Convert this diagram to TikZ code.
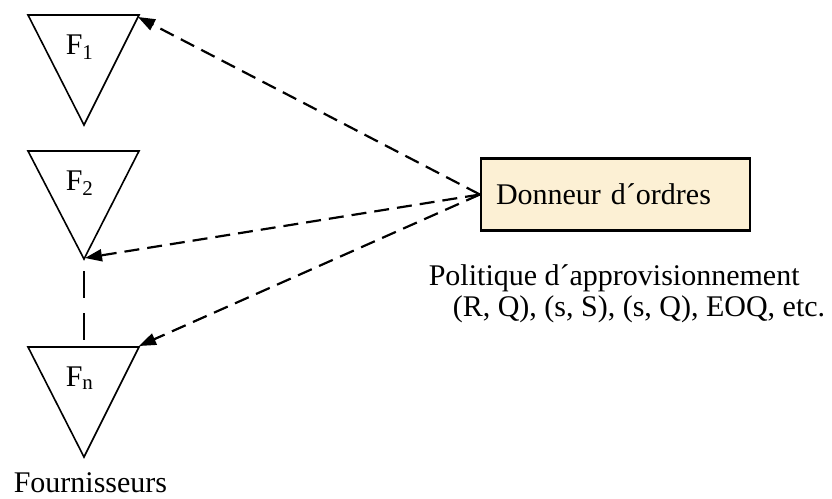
\documentclass[tikz,border=0pt]{standalone}
\usepackage{fontspec}
\setmainfont{Liberation Serif}
\usetikzlibrary{arrows.meta}
\definecolor{boxfill}{RGB}{252,240,212}

\tikzset{every picture/.style={line width=1.6pt}}
\tikzset{
  txt/.style={font=\fontsize{30}{35}\selectfont, inner sep=0pt},
  commande/.style={line width=2.2pt, dash pattern=on 15pt off 8pt, -{Triangle[length=17pt,width=12pt]}},
}

\begin{document}
\begin{tikzpicture}[x=1pt,y=1pt,yscale=-1,xscale=1]
\useasboundingbox (0,0) rectangle (832,498);

%Shape: Triangle F1
\draw (28,15) -- (139,15) -- (84,125) -- cycle ;
\coordinate (f1tr) at (138,17);
%Shape: Triangle F2
\draw (28,151) -- (139,151) -- (84,259) -- cycle ;
\coordinate (f2bot) at (85,258);
\coordinate (f2dash) at (84,271);
%Shape: Triangle Fn
\draw (28,347) -- (139,347) -- (84,457) -- cycle ;
\coordinate (fntr) at (139,346);
\coordinate (fntop) at (84,340);

% Text Node
\node [txt, anchor=base west] (lf1) at (65,54) {F\textsubscript{1}};
% Text Node
\node [txt, anchor=base west] (lf2) at (65,190) {F\textsubscript{2}};
% Text Node
\node [txt, anchor=base west] (lfn) at (65,386) {F\textsubscript{n}};
% Text Node
\node [txt, anchor=base west] (fournisseurs) at (13,492) {Fournisseurs};

% Box Node
\node [txt, draw, fill=boxfill, line width=2.2pt, text width=239pt, inner xsep=15pt, align=left, minimum height=72pt] (donneur) at (615.5,194.5) {Donneur d´ordres};

% Text Node
\node [txt, anchor=base west] (politique) at (428,285) {Politique d´approvisionnement};
% Text Node
\node [txt, anchor=base west] (regles) at (452,316) {(R, Q), (s, S), (s, Q), EOQ, etc.};

%Straight Lines
\draw [commande] (donneur.west) -- (f1tr) ;
\draw [commande] (donneur.west) -- (f2bot) ;
\draw [commande] (donneur.west) -- (fntr) ;
\draw [line width=2.2pt, dash pattern=on 27pt off 15pt] (f2dash) -- (fntop) ;

\end{tikzpicture}
\end{document}
